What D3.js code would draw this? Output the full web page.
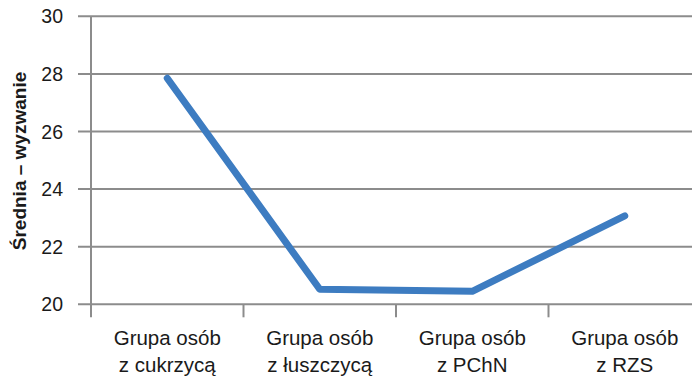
<!DOCTYPE html>
<html>
<head>
<meta charset="utf-8">
<script src="https://cdn.jsdelivr.net/npm/d3@7"></script>
<style>
  html, body { margin: 0; padding: 0; background: #fff; }
  svg { display: block; font-family: "Liberation Sans", Arial, sans-serif; }
</style>
</head>
<body>
<svg id="chart" width="692" height="378"></svg>
<script>
// Mean "challenge" score per patient group
const categories = [
  ["Grupa osób", "z cukrzycą"],
  ["Grupa osób", "z łuszczycą"],
  ["Grupa osób", "z PChN"],
  ["Grupa osób", "z RZS"]
];
const values = [27.85, 20.52, 20.45, 23.07];
const yTicks = [20, 22, 24, 26, 28, 30];
const yTitle = "Średnia – wyzwanie";

const svg = d3.select("#chart");
const plotLeft = 91, plotTop = 16.3, plotBottom = 304.3;
const step = 152.5;
const plotRight = plotLeft + step * categories.length;

const x = d3.scaleBand()
  .domain(d3.range(categories.length))
  .range([plotLeft, plotRight])
  .padding(0);
const y = d3.scaleLinear().domain([20, 30]).range([plotBottom, plotTop]);

const gridColor = "#8c8c8c";

// horizontal gridlines with left ticks
svg.append("g")
  .selectAll("line")
  .data(yTicks)
  .join("line")
  .attr("x1", plotLeft - 13).attr("x2", 692)
  .attr("y1", d => y(d)).attr("y2", d => y(d))
  .attr("stroke", gridColor).attr("stroke-width", 2);

// vertical axis line
svg.append("line")
  .attr("x1", plotLeft).attr("x2", plotLeft)
  .attr("y1", plotTop).attr("y2", plotBottom + 13)
  .attr("stroke", gridColor).attr("stroke-width", 2);

// category boundary ticks below the baseline
svg.append("g")
  .selectAll("line")
  .data(d3.range(1, categories.length + 1))
  .join("line")
  .attr("x1", i => plotLeft + step * i).attr("x2", i => plotLeft + step * i)
  .attr("y1", plotBottom).attr("y2", plotBottom + 13)
  .attr("stroke", gridColor).attr("stroke-width", 2);

// y tick labels
svg.append("g")
  .selectAll("text")
  .data(yTicks)
  .join("text")
  .attr("x", 63)
  .attr("y", d => y(d))
  .attr("dy", "0.36em")
  .attr("text-anchor", "end")
  .attr("font-size", 19.5)
  .attr("fill", "#1a1a1a")
  .text(d => d);

// y axis title
svg.append("text")
  .attr("transform", `translate(26,161) rotate(-90)`)
  .attr("text-anchor", "middle")
  .attr("font-size", 19)
  .attr("font-weight", "bold")
  .attr("fill", "#1a1a1a")
  .text(yTitle);

// category labels
const cat = svg.append("g")
  .selectAll("text")
  .data(categories)
  .join("text")
  .attr("text-anchor", "middle")
  .attr("font-size", 20.5)
  .attr("fill", "#1a1a1a");
cat.selectAll("tspan")
  .data((d, i) => d.map(t => ({ t, i })))
  .join("tspan")
  .attr("x", d => x(d.i) + x.bandwidth() / 2)
  .attr("y", (d, j) => 345 + j * 27)
  .text(d => d.t);

// data line
const line = d3.line()
  .x((d, i) => x(i) + x.bandwidth() / 2)
  .y(d => y(d));
svg.append("path")
  .datum(values)
  .attr("d", line)
  .attr("fill", "none")
  .attr("stroke", "#3d7cc1")
  .attr("stroke-width", 7)
  .attr("stroke-linecap", "round")
  .attr("stroke-linejoin", "round");
</script>
</body>
</html>
